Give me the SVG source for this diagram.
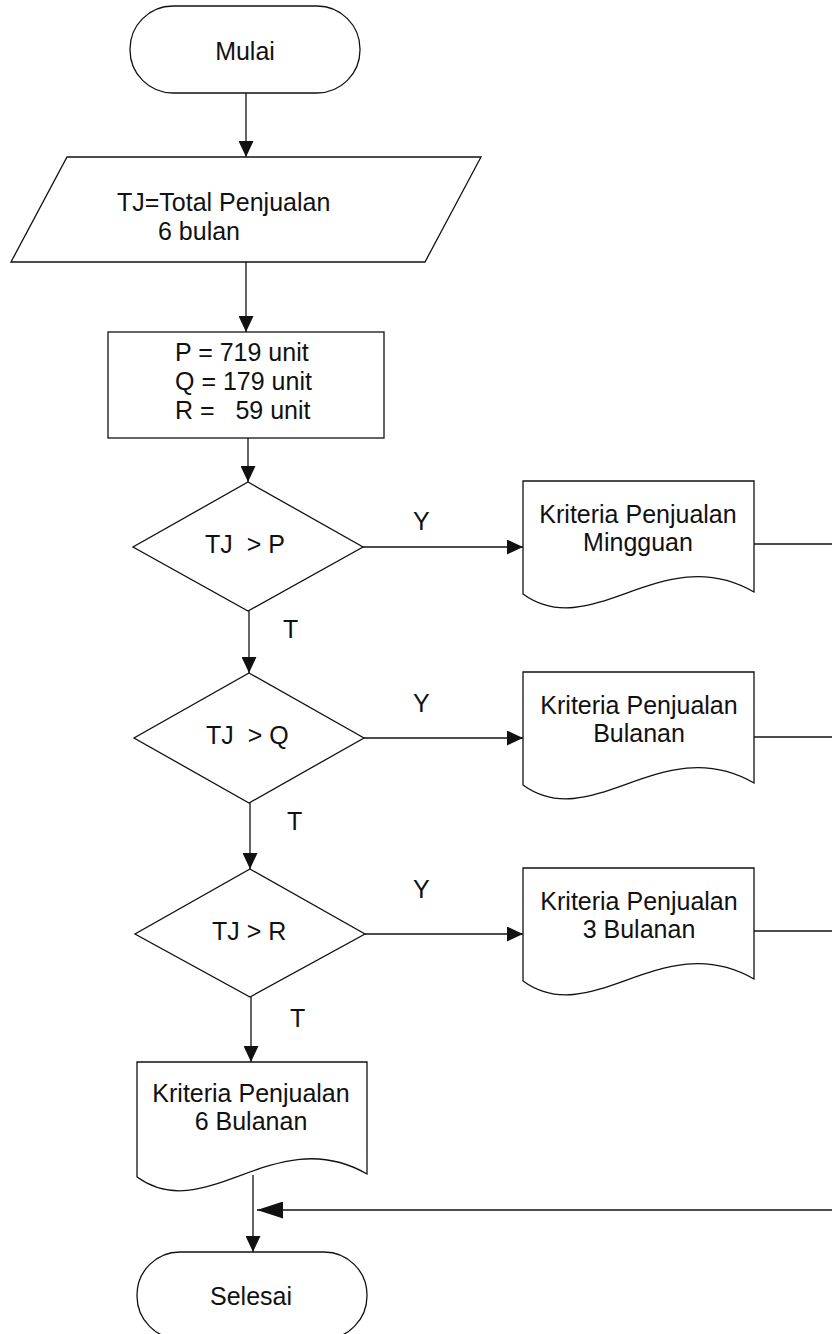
<svg xmlns="http://www.w3.org/2000/svg" width="832" height="1334" viewBox="0 0 832 1334">
<style>
.s{fill:#fff;stroke:#111;stroke-width:1.3}
.c{fill:none;stroke:#111;stroke-width:1.3}
text{font-family:"Liberation Sans",Arial,sans-serif;font-size:25px;fill:#111;white-space:pre}
.m{text-anchor:middle}
</style>
<defs>
<marker id="ah" viewBox="0 0 16 15" refX="16" refY="7.5" markerWidth="16" markerHeight="15" markerUnits="userSpaceOnUse" orient="auto"><path d="M0,0L16,7.5L0,15Z" fill="#111"/></marker>
<marker id="ahb" viewBox="0 0 26 17" refX="26" refY="8.5" markerWidth="26" markerHeight="17" markerUnits="userSpaceOnUse" orient="auto"><path d="M0,0L26,8.5L0,17Z" fill="#111"/></marker>
</defs>
<rect width="832" height="1334" fill="#fff"/>
<g id="connectors">
<path class="c" d="M246,93V157" marker-end="url(#ah)"/>
<path class="c" d="M246,262V332" marker-end="url(#ah)"/>
<path class="c" d="M248,438V482" marker-end="url(#ah)"/>
<path class="c" d="M249,611V673" marker-end="url(#ah)"/>
<path class="c" d="M250,803V869" marker-end="url(#ah)"/>
<path class="c" d="M251,997V1062" marker-end="url(#ah)"/>
<path class="c" d="M253,1175V1252" marker-end="url(#ah)"/>
<path class="c" d="M363,547H523" marker-end="url(#ah)"/>
<path class="c" d="M364,738H523" marker-end="url(#ah)"/>
<path class="c" d="M365,934H523" marker-end="url(#ah)"/>
<path class="c" d="M754,544H832"/>
<path class="c" d="M754,737H832"/>
<path class="c" d="M754,931H832"/>
<path class="c" d="M832,1210H257" marker-end="url(#ahb)"/>
<text x="413" y="530">Y</text>
<text x="413" y="712">Y</text>
<text x="413" y="898">Y</text>
<text x="283" y="638">T</text>
<text x="287" y="830">T</text>
<text x="290" y="1027">T</text>
</g>
<g id="mulai">
<rect class="s" x="130" y="6" width="230" height="87" rx="43"/>
<text class="m" x="245" y="60">Mulai</text>
</g>
<g id="input">
<path class="s" d="M67,157H481L425,262H11Z"/>
<text x="117" y="211">TJ=Total Penjualan</text>
<text x="158" y="240">6 bulan</text>
</g>
<g id="params">
<rect class="s" x="108" y="332" width="276" height="106"/>
<text x="175" y="361">P = 719 unit</text>
<text x="175" y="390">Q = 179 unit</text>
<text x="175" y="419">R =   59 unit</text>
</g>
<g id="d1">
<path class="s" d="M248,482L363,547L248,611L133,547Z"/>
<text x="205" y="553">TJ  &gt; P</text>
</g>
<g id="d2">
<path class="s" d="M249,673L364,738L249,803L134,738Z"/>
<text x="206" y="744">TJ  &gt; Q</text>
</g>
<g id="d3">
<path class="s" d="M250,869L365,934L250,997L135,934Z"/>
<text x="212" y="940">TJ &gt; R</text>
</g>
<g id="doc1">
<path class="s" d="M523,481H754V592C662,539 592,644 523,594Z"/>
<text class="m" x="638" y="523">Kriteria Penjualan</text>
<text class="m" x="638" y="551">Mingguan</text>
</g>
<g id="doc2">
<path class="s" d="M523,672H754V783C662,730 592,835 523,785Z"/>
<text class="m" x="639" y="714">Kriteria Penjualan</text>
<text class="m" x="639" y="742">Bulanan</text>
</g>
<g id="doc3">
<path class="s" d="M523,868H754V979C662,926 592,1031 523,981Z"/>
<text class="m" x="639" y="910">Kriteria Penjualan</text>
<text class="m" x="639" y="938">3 Bulanan</text>
</g>
<g id="doc6">
<path class="s" d="M137,1062H367V1174C275,1121 206,1227 137,1177Z"/>
<text class="m" x="251" y="1102">Kriteria Penjualan</text>
<text class="m" x="251" y="1130">6 Bulanan</text>
</g>
<g id="selesai">
<rect class="s" x="137" y="1252" width="230" height="87" rx="43"/>
<text class="m" x="251" y="1305">Selesai</text>
</g>
</svg>
